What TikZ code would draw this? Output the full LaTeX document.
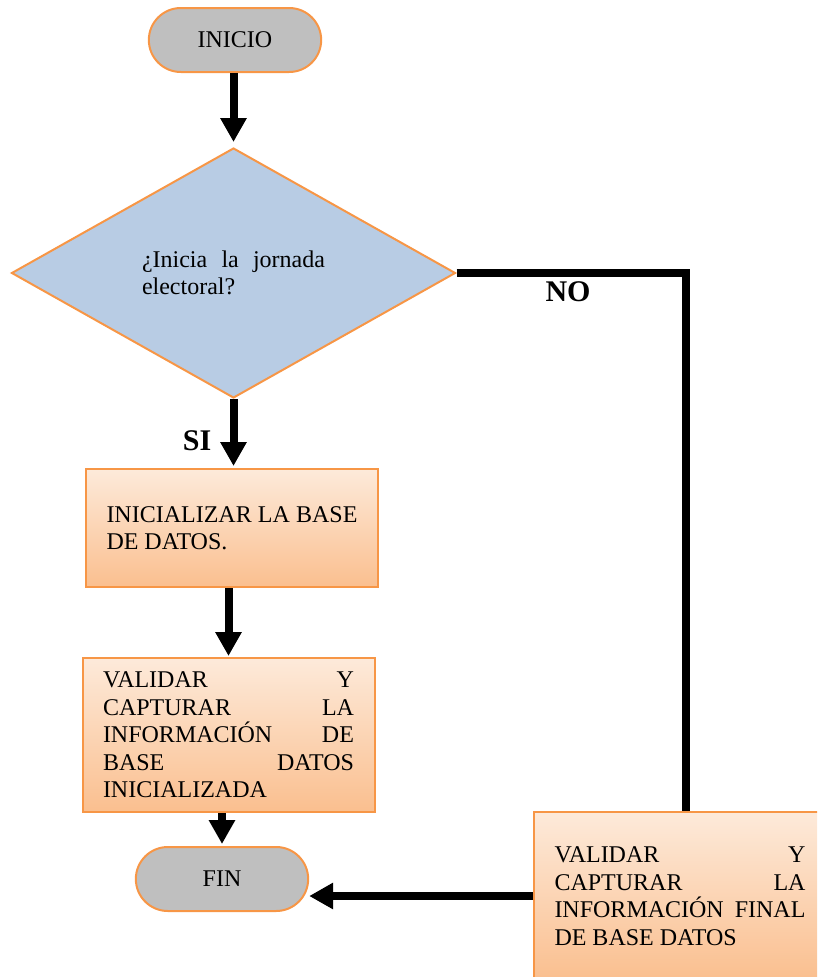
\documentclass[tikz,border=0pt]{standalone}
\usepackage{fontspec}
\setmainfont{Liberation Serif}
\usetikzlibrary{arrows.meta,shapes.geometric,shapes.misc}
\newlength{\du}
\setlength{\du}{10\unitlength}
\hyphenpenalty=10000
\exhyphenpenalty=10000
\tolerance=10000
\definecolor{dialineorange}{RGB}{247,150,70}
\definecolor{dialinegray}{RGB}{191,191,191}
\definecolor{dialineblue}{RGB}{184,204,228}
\definecolor{dialinepeach}{RGB}{253,234,218}
\definecolor{dialinetan}{RGB}{250,191,143}
\tikzset{
  terminal/.style={rounded rectangle, draw=dialineorange, line width=0.2\du,
    fill=dialinegray, minimum width=17.9\du, minimum height=6.4\du,
    font=\fontsize{24}{27.5}\selectfont},
  question/.style={diamond, draw=dialineorange, line width=0.2\du,
    fill=dialineblue, minimum width=44.4\du, minimum height=25\du,
    inner sep=0pt, text width=18.3\du, align=justify,
    font=\fontsize{24}{27.5}\selectfont},
  process/.style={rectangle, draw=dialineorange, line width=0.2\du,
    top color=dialinepeach, bottom color=dialinetan, text width=25.1\du,
    inner xsep=2.05\du, inner ysep=0pt, align=justify,
    font=\fontsize{24}{27.5}\selectfont},
  flow/.style={line width=8pt, -{Triangle[length=24pt,width=25pt]}},
  branch/.style={font=\bfseries\fontsize{30}{34}\selectfont}
}

\begin{document}
\begin{tikzpicture}
\pgftransformxscale{1.000000}
\pgftransformyscale{-1.000000}
\useasboundingbox (0\du,0\du) rectangle (81.7\du,97.7\du);
\clip (0\du,0\du) rectangle (81.7\du,97.7\du);
% shapes
\node[terminal] (inicio) at (23.5\du,4.0\du) {INICIO};
\node[question] (jornada) at (23.35\du,27.3\du) {¿Inicia la jornada electoral?};
\node[process, minimum height=11.8\du] (inicializar) at (23.2\du,52.8\du) {INICIALIZAR LA BASE DE DATOS.};
\node[process, minimum height=15.4\du] (validar) at (22.85\du,73.5\du) {VALIDAR Y CAPTURAR LA INFORMACIÓN DE\linebreak BASE DATOS INICIALIZADA};
\node[terminal] (fin) at (22.2\du,87.9\du) {FIN};
\node[process, minimum height=16.8\du] (final) at (68.0\du,89.6\du) {VALIDAR Y CAPTURAR LA INFORMACIÓN FINAL DE BASE DATOS};
% labels
\node[branch] (si) at (19.7\du,44.1\du) {SI};
\node[branch] (no) at (56.8\du,29.2\du) {NO};
% connectors
\draw[flow, shorten >=5pt] (jornada.north |- inicio.south) -- (jornada.north);
\draw[flow, shorten >=2pt] (jornada.south) -- (jornada.south |- inicializar.north);
\draw[flow, shorten >=1pt] (validar.north |- inicializar.south) -- (validar.north);
\draw[flow, shorten >=2pt] (fin.north |- validar.south) -- (fin.north);
\draw[line width=8pt] (jornada.east) -| ([xshift=6pt]final.north);
\draw[flow] (final.west) -- (fin.east |- final.west);
\end{tikzpicture}
\end{document}
